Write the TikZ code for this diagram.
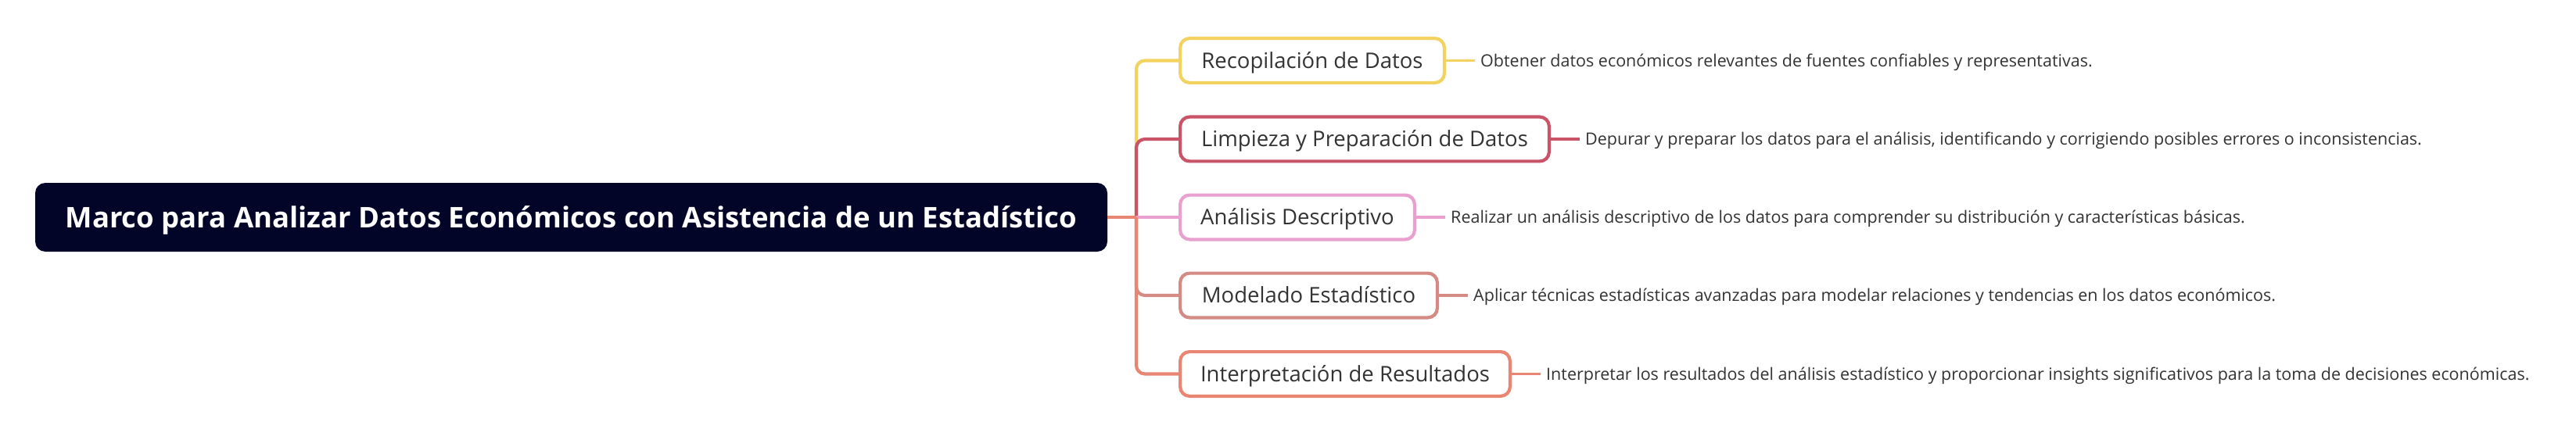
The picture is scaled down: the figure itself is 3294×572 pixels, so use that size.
\documentclass[tikz,border=0pt]{standalone}
\usepackage{fontspec}
\setmainfont{Open Sans}
\definecolor{navy}{RGB}{2,4,40}
\definecolor{cyel}{RGB}{243,210,96}
\definecolor{ccri}{RGB}{201,84,104}
\definecolor{cpnk}{RGB}{234,160,207}
\definecolor{crose}{RGB}{212,139,133}
\definecolor{csal}{RGB}{232,134,115}
\definecolor{txt}{RGB}{51,51,51}
\begin{document}
\begin{tikzpicture}[x=1pt,y=-1pt,
  mainbox/.style={fill=navy, rounded corners=13pt, minimum width=1371pt, minimum height=88pt, inner sep=0pt, text height=26pt, text depth=0pt, text=white, font=\fontsize{36.5}{44}\selectfont\bfseries},
  childbox/.style={draw=#1, line width=4.2pt, rounded corners=12pt, fill=white, minimum height=56.8pt, inner xsep=0pt, text height=19.6pt, text depth=0pt, anchor=west, text=txt, font=\fontsize{27.5}{33}\selectfont},
  desc/.style={anchor=west, inner xsep=7pt, inner ysep=0pt, text height=15.3pt, text depth=0pt, text=txt, font=\fontsize{21.5}{26}\selectfont},
  link/.style={draw=#1, line width=4.2pt, rounded corners=11pt},
  dlink/.style={draw=#1, line width=3.8pt}]
\useasboundingbox (0,0) rectangle (3294,572);
\fill[white] (0,0) rectangle (3294,572);

\node[mainbox] (m) at (730.5,278) {Marco para Analizar Datos Económicos con Asistencia de un Estadístico};
\coordinate (t) at (1453,278);

\node[childbox=cyel, minimum width=337.8pt] (c1) at (1507,77.5) {Recopilación de Datos};
\node[childbox=ccri, minimum width=471.8pt] (c2) at (1507,178) {Limpieza y Preparación de Datos};
\node[childbox=cpnk, minimum width=299.8pt] (c3) at (1507,278) {Análisis Descriptivo};
\node[childbox=crose, minimum width=328.8pt] (c4) at (1507,378) {Modelado Estadístico};
\node[childbox=csal, minimum width=421.8pt] (c5) at (1507,478.5) {Interpretación de Resultados};

\node[desc] (d1) at ([xshift=37pt]c1.east) {Obtener datos económicos relevantes de fuentes confiables y representativas.};
\node[desc] (d2) at ([xshift=37pt]c2.east) {Depurar y preparar los datos para el análisis, identificando y corrigiendo posibles errores o inconsistencias.};
\node[desc] (d3) at ([xshift=37pt]c3.east) {Realizar un análisis descriptivo de los datos para comprender su distribución y características básicas.};
\node[desc] (d4) at ([xshift=37pt]c4.east) {Aplicar técnicas estadísticas avanzadas para modelar relaciones y tendencias en los datos económicos.};
\node[desc] (d5) at ([xshift=37pt]c5.east) {Interpretar los resultados del análisis estadístico y proporcionar insights significativos para la toma de decisiones económicas.};

\draw[link=cyel] (t) |- (c1.west);
\draw[link=ccri] (t) |- (c2.west);
\draw[link=cpnk] (t) -- (c3.west);
\draw[link=crose] (t) |- (c4.west);
\draw[link=csal] (t) |- (c5.west);
\draw[link=csal] (m.east) -- (t);

\draw[dlink=cyel] (c1.east) -- (d1.west);
\draw[dlink=ccri] (c2.east) -- (d2.west);
\draw[dlink=cpnk] (c3.east) -- (d3.west);
\draw[dlink=crose] (c4.east) -- (d4.west);
\draw[dlink=csal] (c5.east) -- (d5.west);
\end{tikzpicture}
\end{document}
